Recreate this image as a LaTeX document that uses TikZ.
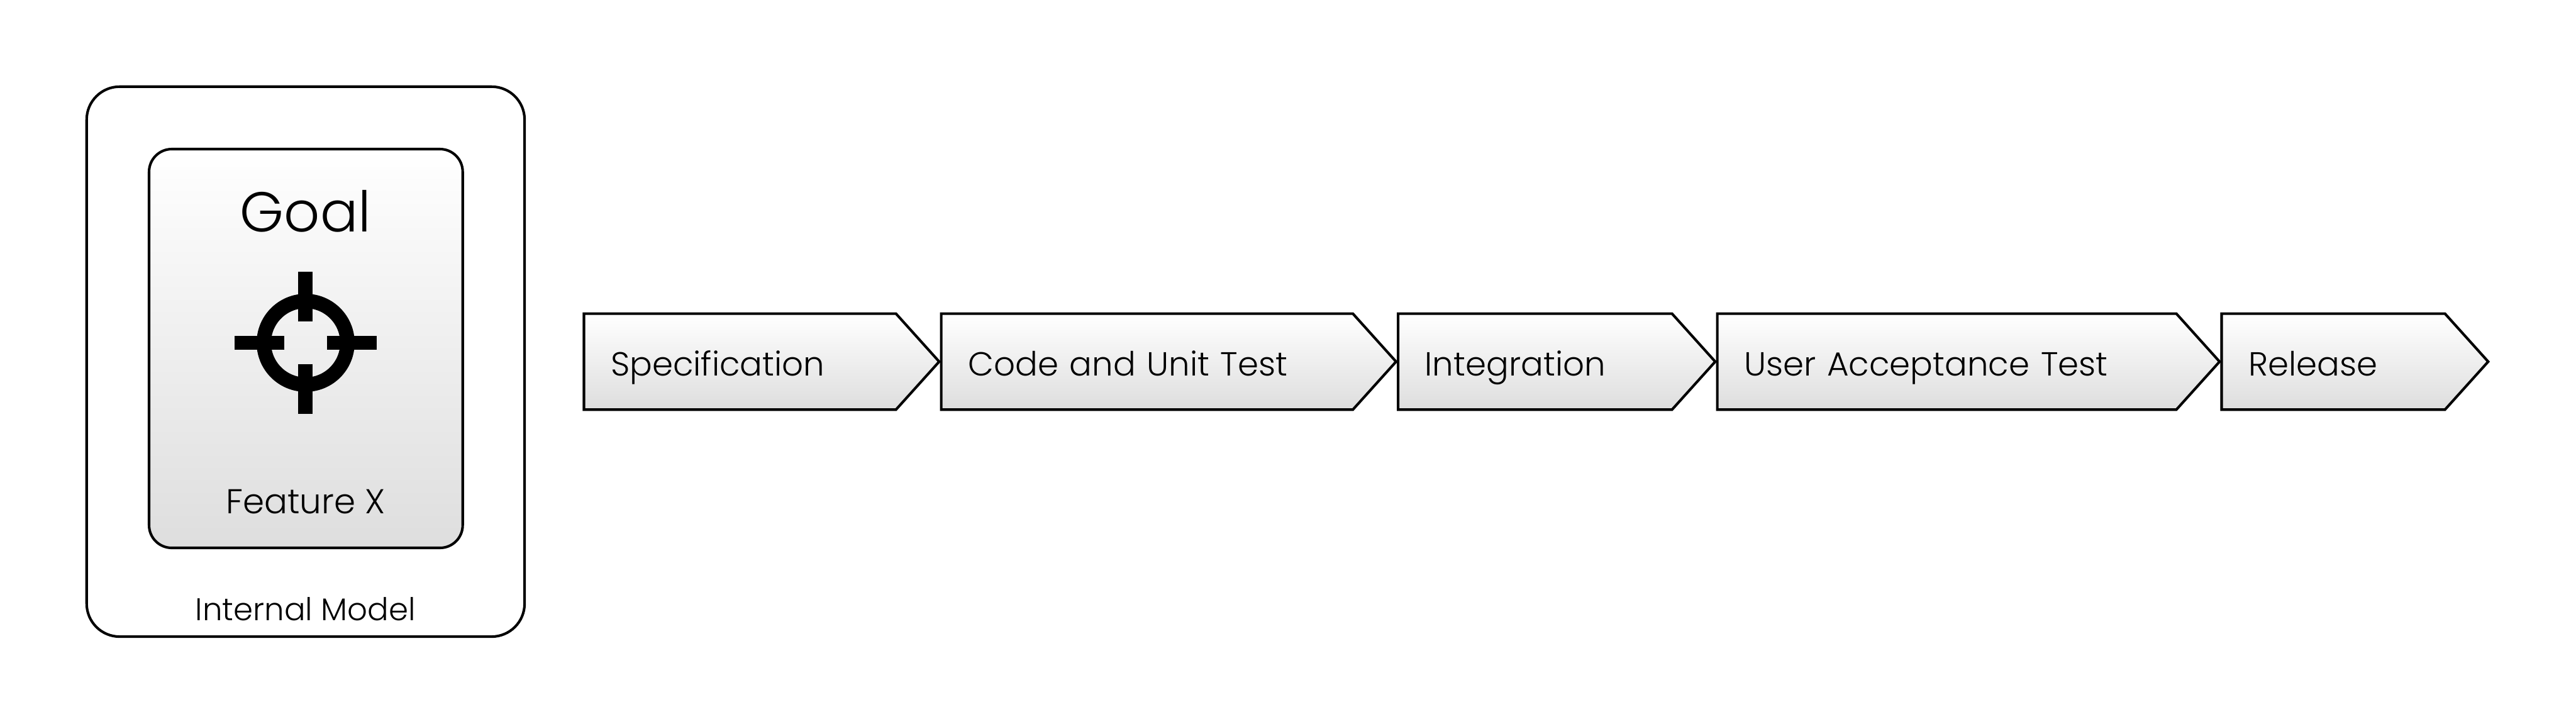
\documentclass[tikz,border=0pt]{standalone}
\usepackage{fontspec}
\setmainfont{Poppins Light}
\usepackage{tikz}
\usetikzlibrary{positioning,shapes.symbols}
\usepackage{xcolor}

\begin{document}
\begin{tikzpicture}[
  softfill/.style={top color=white,bottom color=black!13},
  roundbox/.style={draw,line width=0.05cm,outer sep=0pt},
  stagebox/.style={draw,line width=0.05cm,softfill,shape=signal,signal to=east,signal pointer angle=96,
    outer sep=0pt,inner xsep=0.52cm,inner ysep=0pt,minimum height=1.86cm,align=left,
    text height=0.7cm,text depth=0.16cm,font=\fontsize{18.4}{22}\selectfont},
  smalltext/.style={anchor=base,font=\fontsize{19}{23}\selectfont},
  targetbar/.style={line width=0.28cm}
]
\useasboundingbox (0,0) rectangle (49.94,14.03);
\node[roundbox,rounded corners=0.64cm,minimum width=8.49cm,minimum height=10.66cm] (model) at (5.925,7.02) {};
\node[roundbox,softfill,rounded corners=0.44cm,minimum width=6.08cm,minimum height=7.73cm] (goalcard) at (5.93,7.275) {};
\node[anchor=base,font=\fontsize{31}{37}\selectfont] (goal) at (5.925,9.54) {Goal};
\node[smalltext] (feature) at (5.925,4.07) {Feature X};
\node[smalltext,font=\fontsize{17.3}{21}\selectfont] (modellabel) at (5.925,2.00) {Internal Model};
% crosshair
\node[circle,draw,line width=0.28cm,minimum size=1.62cm,inner sep=0pt] (target) at (5.925,7.385) {};
\foreach \ang in {0,90,180,270}
  \draw[targetbar] (target.center) ++(\ang:0.41) -- ++(\ang:0.97);
% stages
\node[stagebox,text width=5.01cm,anchor=west] (spec) at (11.32,7.02) {Specification};
\node[stagebox,text width=6.94cm,anchor=west,right=0.04cm of spec] (code) {Code and Unit Test};
\node[stagebox,text width=4.27cm,anchor=west,right=0.04cm of code] (integ) {Integration};
\node[stagebox,text width=7.86cm,anchor=west,right=0.04cm of integ] (uat) {User Acceptance Test};
\node[stagebox,text width=3.29cm,anchor=west,right=0.04cm of uat] (release) {Release};
\end{tikzpicture}
\end{document}
